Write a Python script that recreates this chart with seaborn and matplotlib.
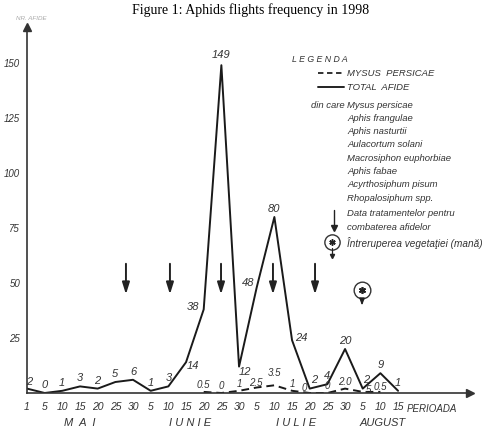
import matplotlib
matplotlib.use("Agg")
import matplotlib.pyplot as plt
import numpy as np
import pandas as pd
import seaborn as sns
from matplotlib.lines import Line2D

# ---------------- data ----------------
tick_labels = ["1", "5", "10", "15", "20", "25", "30",
               "5", "10", "15", "20", "25", "30",
               "5", "10", "15", "20", "25", "30",
               "5", "10", "15"]
total_afide = [2, 0, 1, 3, 2, 5, 6, 1, 3, 14, 38, 149, 12, 48, 80, 24, 2, 4, 20, 2, 9, 1]
mysus = [np.nan] * 10 + [0.5, 0, 1, 2.5, 3.5, 1, 0, 0, 2.0, 0.5, 0.5, np.nan]
mysus_labels = [None] * 10 + ["0.5", "0", "1", "2.5", "3.5", "1", "0", "0", "2.0", "5", "0.5", None]
months = ["M  A  I", "I U N I E", "I U L I E", "AUGUST"]
month_centers = [3.0, 9.2, 15.2, 20.1]
y_ticks = [25, 50, 75, 100, 125, 150]
treatment_x = [5.6, 8.09, 10.98, 13.92, 16.3]
frost_x = [18.96]
species = ["Mysus persicae", "Aphis frangulae", "Aphis nasturtii", "Aulacortum solani",
           "Macrosiphon euphorbiae", "Aphis fabae", "Acyrthosiphum pisum", "Rhopalosiphum spp."]

W, H = 502, 437
sns.set_style("white")
FAM = ["Liberation Sans", "DejaVu Sans"]
plt.rcParams["font.family"] = FAM

fig = plt.figure(figsize=(W / 100, H / 100), dpi=100)
left_px, right_px, top_px, bottom_px = 27, 470, 27, 393
dx, dy = 17.67, 2.2
ax = fig.add_axes([left_px / W, (H - bottom_px) / H, (right_px - left_px) / W, (bottom_px - top_px) / H])
ax.set_xlim(0, (right_px - left_px) / dx)
ax.set_ylim(0, (bottom_px - top_px) / dy)

x = np.arange(len(total_afide))
df = pd.DataFrame({"x": x, "total": total_afide, "mysus": mysus})
sns.lineplot(data=df, x="x", y="total", ax=ax, color="#1a1a1a", lw=1.4)
sns.lineplot(data=df.dropna(), x="x", y="mysus", ax=ax, color="#1a1a1a", lw=1.4,
             linestyle=(0, (4, 2.5)))

# axes styling
for s in ["top", "right"]:
    ax.spines[s].set_visible(False)
for s in ["left", "bottom"]:
    ax.spines[s].set_color("#333333")
    ax.spines[s].set_linewidth(1.2)
ax.plot(1, 0, ">", color="#333333", ms=6, transform=ax.transAxes, clip_on=False)
ax.plot(0, 1, "^", color="#333333", ms=6, transform=ax.transAxes, clip_on=False)

txt = dict(style="italic", color="#333333")
ax.set_xticks(x)
ax.set_xticklabels(tick_labels, fontsize=7.5, **txt)
ax.set_yticks(y_ticks)
ax.set_yticklabels([str(v) for v in y_ticks], fontsize=7, **txt)
ax.tick_params(axis="x", direction="inout", length=5, width=0.8, pad=4, colors="#333333")
ax.tick_params(axis="y", direction="out", length=3, width=0.8, pad=2, colors="#333333")
ax.set_xlabel("")
ax.set_ylabel("")
ax.grid(False)

for c, m in zip(month_centers, months):
    ax.text(c, -13.8, m, ha="center", va="center", fontsize=8, **txt)
ax.text(22.9, -7.4, "PERIOADA", ha="center", va="center", fontsize=7, **txt)

# value labels for total (offsets in pixels)
PT = 0.72
off_total = {0: (2, 7), 9: (7, -4), 10: (-11, 2), 11: (0, 10), 12: (6, -5), 13: (-9, 4),
             15: (9, 2), 16: (4, 9), 19: (3, 9), 20: (0, 8)}
for i, v in enumerate(total_afide):
    ox, oy = off_total.get(i, (0, 8))
    ax.annotate(str(v), (i, v), xytext=(ox * PT, oy * PT), textcoords="offset points",
                ha="center", va="center", fontsize=8, **txt)
# value labels for mysus
off_mysus = {13: (-1, 5), 14: (0, 12), 16: (-5, 5), 19: (6, 2), 20: (0, 5)}
for i, (v, lab) in enumerate(zip(mysus, mysus_labels)):
    if lab is None:
        continue
    ox, oy = off_mysus.get(i, (0, 7))
    ax.annotate(lab, (i, v), xytext=(ox * PT, oy * PT), textcoords="offset points",
                ha="center", va="center", fontsize=7, **txt)

# treatment arrows
for tx in treatment_x:
    ax.annotate("", xy=(tx, 43.6), xytext=(tx, 60),
                arrowprops=dict(arrowstyle="-|>,head_length=0.7,head_width=0.22",
                                color="#222222", lw=1.4))
# frost markers
for fx in frost_x:
    ax.plot(fx, 46.8, "o", ms=12, mfc="white", mec="#333333", mew=1.0)
    ax.plot(fx, 46.8, marker=(6, 2, 0), ms=5, color="#222222", mew=1.2)
    ax.annotate("", xy=(fx, 38.5), xytext=(fx, 43.8),
                arrowprops=dict(arrowstyle="-|>,head_length=0.4,head_width=0.15",
                                color="#222222", lw=1.0))

# ---------------- legend (figure pixel coords) ----------------
def fx_(px):
    return px / W

def fy_(py):
    return 1 - py / H

LFS = 6.8
fig.text(fx_(292), fy_(60), "L E G E N D A", fontsize=6.3, va="center", **txt)
fig.add_artist(Line2D([fx_(318), fx_(344)], [fy_(73), fy_(73)], color="#222222", lw=1.3,
                      linestyle=(0, (3, 2))))
fig.text(fx_(347), fy_(73), "MYSUS  PERSICAE", fontsize=LFS, va="center", **txt)
fig.add_artist(Line2D([fx_(318), fx_(344)], [fy_(87), fy_(87)], color="#222222", lw=1.4))
fig.text(fx_(347), fy_(87), "TOTAL  AFIDE", fontsize=LFS, va="center", **txt)
fig.text(fx_(345), fy_(105), "din care", fontsize=LFS, va="center", ha="right", **txt)
for k, sp in enumerate(species):
    fig.text(fx_(347), fy_(105 + k * 13.3), sp, fontsize=LFS, va="center", **txt)
fig.add_artist(Line2D([fx_(334), fx_(334)], [fy_(210), fy_(226)], color="#222222", lw=1.0))
fig.add_artist(Line2D([fx_(334)], [fy_(228)], marker="v", ms=4, color="#222222"))
fig.text(fx_(347), fy_(214), "Data tratamentelor pentru", fontsize=LFS, va="center", **txt)
fig.text(fx_(347), fy_(227), "combaterea afidelor", fontsize=LFS, va="center", **txt)
fig.add_artist(Line2D([fx_(332)], [fy_(242)], marker="o", ms=11, mfc="white", mec="#333333", mew=1.0))
fig.add_artist(Line2D([fx_(332)], [fy_(242)], marker=(6, 2, 0), ms=4.5, color="#222222", mew=1.1))
fig.add_artist(Line2D([fx_(332), fx_(332)], [fy_(248), fy_(256)], color="#222222", lw=0.9))
fig.add_artist(Line2D([fx_(332)], [fy_(256)], marker="v", ms=3, color="#222222"))
fig.text(fx_(347), fy_(243), "Întreruperea vegetaţiei (mană)", fontsize=7.2, va="center", **txt)

# y-axis caption (faint)
fig.text(fx_(16), fy_(19), "NR. AFIDE", fontsize=4.5, color="#aaaaaa", va="center", style="italic")

# title
fig.text(0.5, fy_(10), "Figure 1: Aphids flights frequency in 1998", ha="center", va="center",
         fontsize=10, family="Liberation Serif", color="black")

fig.savefig("out.png", dpi=100, facecolor="white")
